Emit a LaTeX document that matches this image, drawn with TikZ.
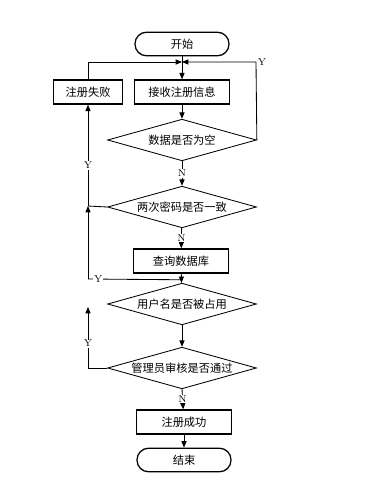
\documentclass[tikz,border=0pt]{standalone}
\usepackage{fontspec}
\newfontfamily\cjk{Noto Sans CJK SC}
\usetikzlibrary{shapes.geometric, arrows.meta}

\begin{document}
\begin{tikzpicture}[x=0.025cm, y=-0.025cm, line width=0.6pt, >={Triangle[length=4.5pt, width=3.6pt]},
                        term/.style = {draw, rounded corners=0.29cm, minimum width=2.35cm, minimum height=0.59cm, line width=0.9pt, font=\cjk\fontsize{8}{9}\selectfont},
                        proc/.style = {draw, rectangle, minimum width=2.37cm, minimum height=0.6cm, line width=1pt, font=\cjk\fontsize{8}{9}\selectfont},
                        test/.style = {draw, diamond, aspect=3.6, inner sep=0pt, minimum width=3.72cm, minimum height=1.04cm, line width=0.6pt, font=\cjk\fontsize{8}{9}\selectfont},
                        yn/.style = {fill=white, inner sep=0.5pt, font=\fontsize{7}{8}\selectfont}]
        \useasboundingbox (0,0) rectangle (369,495);

        \node[term] (start) at (182, 44) {开始};
        \node[proc, minimum width=1.73cm] (fail) at (88, 92) {注册失败};
        \node[proc] (recv) at (182, 92) {接收注册信息};
        \node[test] (empty) at (182, 140) {数据是否为空};
        \node[test] (pwd) at (182, 207) {两次密码是否一致};
        \node[proc] (query) at (181, 261) {查询数据库};
        \node[test] (dup) at (182, 304) {用户名是否被占用};
        \node[test] (audit) at (182, 368) {管理员审核是否通过};
        \node[proc] (ok) at (184, 422) {注册成功};
        \node[term] (stop) at (184, 460) {结束};

        \coordinate (merge) at (182, 62);
        \coordinate (join) at (88, 206);
        \coordinate (back) at (88, 279);
        \coordinate (loop) at (88, 307);

        \draw[->] (start) -- (recv); \draw[->] (recv) -- (empty);
        \draw[->] (fail.north) |- (merge);
        \draw[->] (empty.east) -- (256, 62) node[right, font=\fontsize{7}{8}\selectfont, inner sep=1pt] {Y} -- (merge);
        \draw[->] (empty) -- node[yn] {N} (pwd);
        \draw (pwd.west) -- (join);
        \draw[->] (join) -- node[yn, pos=0.4] {Y} (fail.south);
        \draw[->] (back) -- (join);
        \draw[->] (pwd) -- node[yn] {N} (query);
        \draw[->] (query) -- (dup);
        \draw (dup.north) ++(0,-3) -- node[yn, pos=0.89] {Y} (back);
        \draw[->] (dup) -- (audit);
        \draw[->] (audit.west) -- (88, 368) -- node[yn, pos=0.4] {Y} (loop);
        \draw[->] (audit.south) -- node[yn] {N} (ok);
        \draw[->] (ok) -- (stop);
    \end{tikzpicture}
\end{document}
